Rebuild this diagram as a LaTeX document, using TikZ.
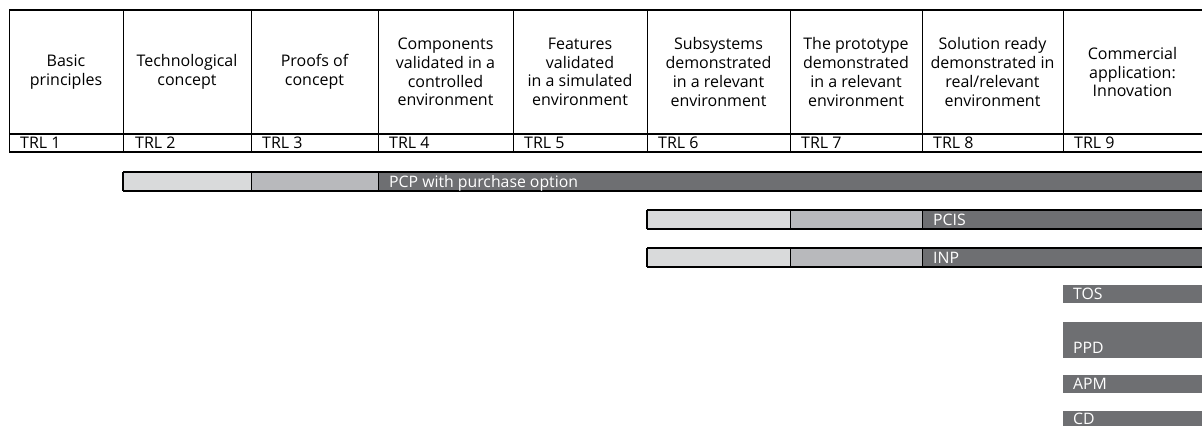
\documentclass[tikz,border=0pt]{standalone}
\usepackage{fontspec}
\setmainfont{Open Sans}
\definecolor{barlight}{HTML}{D9DADB}
\definecolor{barmid}{HTML}{B8B9BC}
\definecolor{bardark}{HTML}{6E6F72}
\tikzset{
  head/.style={align=center, inner sep=0pt, font=\fontsize{16}{18.7}\selectfont},
  trl/.style={anchor=base west, inner sep=0pt, font=\fontsize{16}{18}\selectfont},
  barlabel/.style={anchor=base west, inner sep=0pt, text=white, font=\fontsize{15.8}{18}\selectfont}
}

\begin{document}
\begin{tikzpicture}[x=1pt, y=-1pt]
        \useasboundingbox (0,0) rectangle (1202,426);
        % table frame
        \draw[line width=2pt] (9,10) -- (1202,10);
        \draw[line width=1.6pt] (9,134) -- (1202,134);
        \draw[line width=1.6pt] (9,152) -- (1202,152);
        \draw[line width=1pt] (9,10) -- (9,152);
        \foreach \x in {123,251,378,513,647,790,922,1063}
            \draw[line width=0.8pt] (\x,10) -- (\x,152);
        % headings
        \node[head] (basic) at (66,72) {Basic\\principles};
        \node[head] (techno) at (187,72) {Technological\\concept};
        \node[head] (proofs) at (314.5,72) {Proofs of\\concept};
        \node[head] (compo) at (445.5,72) {Components\\validated in a\\controlled\\environment};
        \node[head] (feat) at (580,72) {Features\\validated\\in a simulated\\environment};
        \node[head] (subsys) at (718.5,72) {Subsystems\\demonstrated\\in a relevant\\environment};
        \node[head] (proto) at (856,72) {The prototype\\demonstrated\\in a relevant\\environment};
        \node[head] (ready) at (992.5,72) {Solution ready\\demonstrated in\\real/relevant\\environment};
        \node[head] (comm) at (1132.5,72) {Commercial\\application:\\Innovation};
        % levels
        \node[trl] (trl1) at (20,148) {TRL 1};
        \node[trl] (trl2) at (135,148) {TRL 2};
        \node[trl] (trl3) at (262,148) {TRL 3};
        \node[trl] (trl4) at (389,148) {TRL 4};
        \node[trl] (trl5) at (524,148) {TRL 5};
        \node[trl] (trl6) at (658,148) {TRL 6};
        \node[trl] (trl7) at (801,148) {TRL 7};
        \node[trl] (trl8) at (933,148) {TRL 8};
        \node[trl] (trl9) at (1074,148) {TRL 9};
        % PCP bar
        \fill[barlight] (123,172) rectangle (251,191);
        \fill[barmid] (251,172) rectangle (378,191);
        \fill[bardark] (378,172) rectangle (1202,191);
        \draw[line width=2pt] (123,172) -- (1202,172);
        \draw[line width=2pt] (123,191) -- (1202,191);
        \draw[line width=1.2pt] (123,172) -- (123,191);
        \draw[line width=0.8pt] (251,172) -- (251,191);
        \draw[line width=0.8pt] (378,172) -- (378,191);
        \node[barlabel] (pcp) at (389,187) {PCP with purchase option};
        % PCIS bar
        \fill[barlight] (647,210) rectangle (790,229);
        \fill[barmid] (790,210) rectangle (922,229);
        \fill[bardark] (922,210) rectangle (1202,229);
        \draw[line width=2pt] (647,210) -- (1202,210);
        \draw[line width=2pt] (647,229) -- (1202,229);
        \draw[line width=1.2pt] (647,210) -- (647,229);
        \draw[line width=0.8pt] (790,210) -- (790,229);
        \draw[line width=0.8pt] (922,210) -- (922,229);
        \node[barlabel] (pcis) at (933,225) {PCIS};
        % INP bar
        \fill[barlight] (647,248) rectangle (790,267);
        \fill[barmid] (790,248) rectangle (922,267);
        \fill[bardark] (922,248) rectangle (1202,267);
        \draw[line width=2pt] (647,248) -- (1202,248);
        \draw[line width=2pt] (647,267) -- (1202,267);
        \draw[line width=1.2pt] (647,248) -- (647,267);
        \draw[line width=0.8pt] (790,248) -- (790,267);
        \draw[line width=0.8pt] (922,248) -- (922,267);
        \node[barlabel] (inp) at (933,263) {INP};
        % innovation only
        \fill[bardark] (1063,285) rectangle (1202,303);
        \node[barlabel] (tos) at (1073,299) {TOS};
        \fill[bardark] (1063,322) rectangle (1202,358);
        \node[barlabel] (ppd) at (1073,353) {PPD};
        \fill[bardark] (1063,375) rectangle (1202,393);
        \node[barlabel] (apm) at (1073,389) {APM};
        \fill[bardark] (1063,411) rectangle (1202,426);
        \node[barlabel] (cd) at (1073,424) {CD};
\end{tikzpicture}
\end{document}
